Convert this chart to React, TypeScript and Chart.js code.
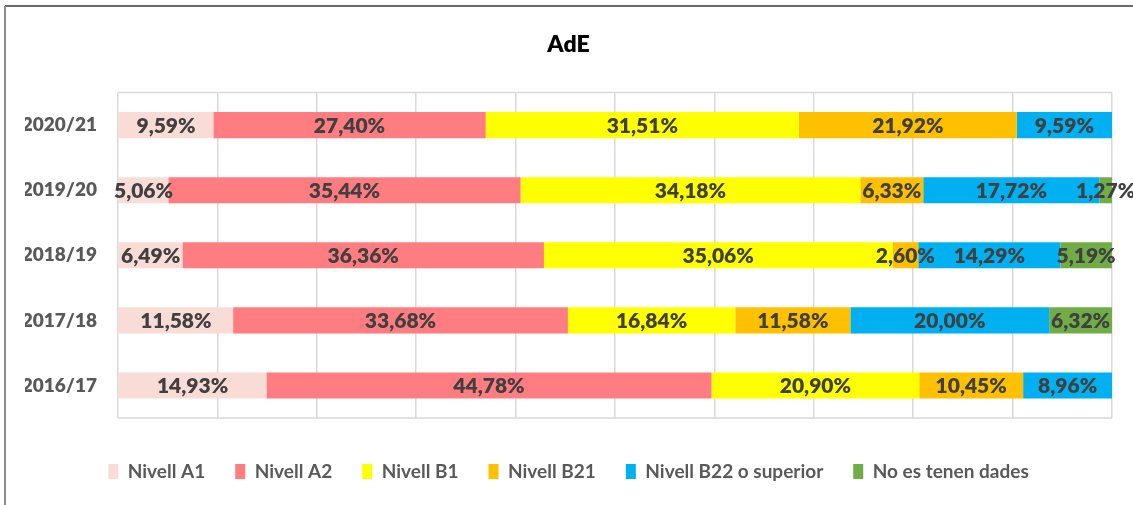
import React, { useEffect, useRef } from "react";
import { Chart, registerables } from "chart.js";

Chart.register(...registerables);

const categories = ["2020/21", "2019/20", "2018/19", "2017/18", "2016/17"];
const nivellA1 = [9.59, 5.06, 6.49, 11.58, 14.93];
const nivellA2 = [27.4, 35.44, 36.36, 33.68, 44.78];
const nivellB1 = [31.51, 34.18, 35.06, 16.84, 20.9];
const nivellB21 = [21.92, 6.33, 2.6, 11.58, 10.45];
const nivellB22 = [9.59, 17.72, 14.29, 20.0, 8.96];
const noDades = [null, 1.27, 5.19, 6.32, null];

const seriesNames = [
  "Nivell A1",
  "Nivell A2",
  "Nivell B1",
  "Nivell B21",
  "Nivell B22 o superior",
  "No es tenen dades",
];
const seriesColors = ["#F8DCD5", "#FF7C80", "#FFFF00", "#FFC000", "#00B0F0", "#70AD47"];
const seriesData = [nivellA1, nivellA2, nivellB1, nivellB21, nivellB22, noDades];

const FONT = "Lato, 'Open Sans', sans-serif";

const decorPlugin = {
  id: "decor",
  beforeDraw(chart: any) {
    const { ctx, chartArea, width } = chart;
    ctx.save();
    ctx.strokeStyle = "#3a3a3a";
    ctx.lineWidth = 1.5;
    ctx.beginPath();
    ctx.moveTo(5, 6);
    ctx.lineTo(width, 6);
    ctx.stroke();
    ctx.strokeStyle = "#8c8c8c";
    ctx.lineWidth = 2;
    ctx.beginPath();
    ctx.moveTo(5, 6);
    ctx.lineTo(5, chart.height);
    ctx.stroke();
    ctx.strokeStyle = "#d9d9d9";
    ctx.lineWidth = 1.5;
    ctx.beginPath();
    ctx.moveTo(chartArea.left, chartArea.top);
    ctx.lineTo(chartArea.right, chartArea.top);
    ctx.moveTo(chartArea.left, chartArea.bottom);
    ctx.lineTo(chartArea.right, chartArea.bottom);
    ctx.stroke();
    ctx.restore();
  },
};

const labelPlugin = {
  id: "barLabels",
  afterDatasetsDraw(chart: any) {
    const { ctx } = chart;
    ctx.save();
    ctx.font = `800 21px ${FONT}`;
    ctx.fillStyle = "#404040";
    ctx.textAlign = "center";
    ctx.textBaseline = "middle";
    chart.data.datasets.forEach((ds: any, di: number) => {
      const meta = chart.getDatasetMeta(di);
      meta.data.forEach((el: any, i: number) => {
        const v = ds.data[i];
        if (v === null || v === undefined) return;
        const cx = (el.x + el.base) / 2;
        const txt = v.toFixed(2).replace(".", ",") + "%";
        ctx.fillText(txt, cx, el.y + 1);
      });
    });
    ctx.restore();
  },
};

export default function App() {
  const ref = useRef<HTMLCanvasElement | null>(null);
  useEffect(() => {
    if (!ref.current) return;
    const chart = new Chart(ref.current, {
      type: "bar",
      data: {
        labels: categories,
        datasets: seriesData.map((d, i) => ({
          label: seriesNames[i],
          data: d as any,
          backgroundColor: seriesColors[i],
          borderWidth: 0,
          barPercentage: 0.4,
          categoryPercentage: 1,
        })),
      },
      options: {
        indexAxis: "y",
        animation: false,
        responsive: false,
        maintainAspectRatio: false,
        layout: { padding: { left: 25, right: 21, top: 0, bottom: 14 } },
        plugins: {
          title: {
            display: true,
            text: "AdE",
            color: "#000000",
            font: { family: FONT, size: 23, weight: "800" as any },
            padding: { top: 31, bottom: 34 },
          },
          legend: {
            position: "bottom",
            labels: {
              color: "#595959",
              font: { family: FONT, size: 19, weight: "bold" },
              boxWidth: 10,
              boxHeight: 15,
              padding: 30,
            },
          },
          tooltip: { enabled: false },
        },
        scales: {
          x: {
            stacked: true,
            min: 0,
            max: 100,
            ticks: { display: false, stepSize: 10 },
            grid: { color: "#d9d9d9", lineWidth: 1.5, drawTicks: false },
            border: { display: false },
            afterFit(scale: any) {
              scale.height = 14;
            },
          },
          y: {
            stacked: true,
            grid: { display: false, drawTicks: false },
            border: { display: false },
            ticks: {
              color: "#595959",
              font: { family: FONT, size: 19, weight: "800" as any },
              padding: 21,
            },
            afterFit(scale: any) {
              scale.width = 93;
            },
          },
        },
      },
      plugins: [decorPlugin, labelPlugin],
    });
    return () => chart.destroy();
  }, []);
  return (
    <div style={{ position: "absolute", left: 0, top: 0, width: 1133, height: 505, background: "#fff" }}>
      <canvas ref={ref} width={1133} height={505} style={{ display: "block" }} />
    </div>
  );
}
